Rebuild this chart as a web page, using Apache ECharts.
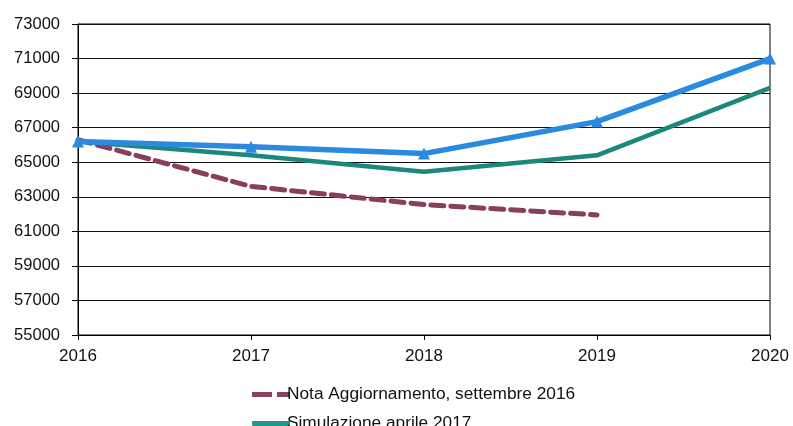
<!DOCTYPE html>
<html>
<head>
<meta charset="utf-8">
<script src="https://cdn.jsdelivr.net/npm/echarts@6/dist/echarts.min.js"></script>
<style>
  html, body { margin: 0; padding: 0; background: #fff; }
</style>
</head>
<body>
<div id="chart" style="width: 793px;height: 426px"></div>
<script>
// values
var years = ['2016', '2017', '2018', '2019', '2020'];
var notaSett2016 = [66300, 63600, 62550, 61950, null];
var simAprile2017 = [66200, 65400, 64450, 65400, 69300];
var terzaSerie = [66200, 65900, 65500, 67350, 71000];

var myChart = echarts.init(document.getElementById('chart'));

var option = {
  animation: false,
  textStyle: { fontFamily: 'Liberation Sans, Arial, sans-serif' },
  grid: {
    left: 78,
    right: 23,
    top: 24,
    bottom: 91,
    show: true,
    borderColor: '#000',
    borderWidth: 1
  },
  legend: {
    orient: 'vertical',
    left: 247,
    top: 381,
    height: 200,
    itemGap: 12,
    itemWidth: 38,
    itemHeight: 5,
    data: [
      {name: 'Nota Aggiornamento, settembre 2016', icon: 'path://M0,0h20v5h-20z M25,0h13v5h-13z'},
      {name: 'Simulazione aprile 2017', icon: 'roundRect'},
      {name: 'DEF 2017', icon: 'roundRect'}
    ],
    textStyle: { color: '#111', fontSize: 17.3, padding: [0, 0, 0, -8] }
  },
  xAxis: {
    type: 'category',
    data: years,
    boundaryGap: false,
    axisLine: { lineStyle: { color: '#000', width: 1 } },
    axisTick: { show: true, length: 5, lineStyle: { color: '#000' } },
    axisLabel: { color: '#111', fontSize: 17, margin: 13 },
    splitLine: { show: false }
  },
  yAxis: {
    type: 'value',
    min: 55000,
    max: 73000,
    interval: 2000,
    axisLine: { show: true, lineStyle: { color: '#000', width: 1 } },
    axisTick: { show: true, length: 6, lineStyle: { color: '#000' } },
    axisLabel: {
      color: '#111', fontSize: 16.5, margin: 18,
      formatter: function (v) { return String(v); }
    },
    splitLine: { show: true, lineStyle: { color: '#111', width: 1 } }
  },
  series: [
    {
      name: 'Nota Aggiornamento, settembre 2016',
      type: 'line',
      data: notaSett2016,
      symbol: 'none',
      lineStyle: { color: '#8a3d5c', width: 5, type: [13, 7], cap: 'round' },
      itemStyle: { color: '#8a4262' },
      z: 3
    },
    {
      name: 'Simulazione aprile 2017',
      type: 'line',
      data: simAprile2017,
      symbol: 'none',
      lineStyle: { color: '#1b887b', width: 4.5 },
      itemStyle: { color: '#269488' },
      z: 4
    },
    {
      name: 'DEF 2017',
      type: 'line',
      data: terzaSerie,
      symbol: 'triangle',
      symbolSize: 12,
      lineStyle: { color: '#2a8ae0', width: 5.5 },
      itemStyle: { color: '#2a8ae0' },
      z: 5
    }
  ]
};

myChart.setOption(option);
</script>
</body>
</html>
